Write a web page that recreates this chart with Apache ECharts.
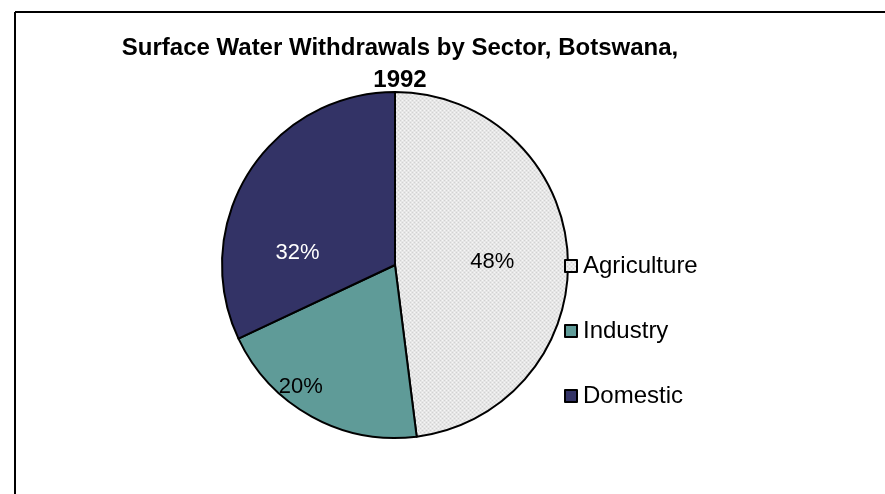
<!DOCTYPE html>
<html><head><meta charset="utf-8">
<script src="https://cdn.jsdelivr.net/npm/echarts@6/dist/echarts.min.js"></script>
<style>html,body{margin:0;padding:0;background:#fff}#c{width:885px;height:494px}</style>
</head><body><div id="c"></div>
<script>
const categories = ['Agriculture', 'Industry', 'Domestic'];
const values = [48, 20, 32];
const titleText = 'Surface Water Withdrawals by Sector, Botswana,\n1992';

function makePattern() {
  const c = document.createElement('canvas');
  c.width = 4; c.height = 4;
  const g = c.getContext('2d');
  g.fillStyle = '#e6e6e6'; g.fillRect(0, 0, 4, 4);
  g.fillStyle = '#d2d2d2';
  g.fillRect(0, 0, 1, 1); g.fillRect(2, 2, 1, 1);
  g.fillStyle = '#f6f6f6';
  g.fillRect(2, 0, 1, 1); g.fillRect(0, 2, 1, 1);
  return { image: c, repeat: 'repeat' };
}
const colors = [makePattern(), '#5f9b98', '#333366'];
const labelColors = ['#000', '#000', '#fff'];
// label nudges (style, not data)
const labelShift = [[8, 3], [-51, 44], [-22, 36]];

const chart = echarts.init(document.getElementById('c'), null, { renderer: 'canvas' });
chart.setOption({
  backgroundColor: '#fff',
  animation: false,
  title: {
    text: titleText,
    left: 395, top: 27, textAlign: 'center',
    textStyle: { fontFamily: 'Liberation Sans, Arial', fontSize: 24, fontWeight: 'bold', color: '#000', lineHeight: 32 }
  },
  legend: {
    orient: 'vertical', left: 559, top: 249, itemGap: 41,
    itemWidth: 12, itemHeight: 12, icon: 'rect',
    textStyle: { fontFamily: 'Liberation Sans, Arial', fontSize: 24, color: '#000', padding: [0, 0, 0, 1] },
    itemStyle: { borderColor: '#000', borderWidth: 2 },
    data: categories
  },
  graphic: [
    { type: 'line', shape: { x1: 15, y1: 12, x2: 885, y2: 12 }, style: { stroke: '#000', lineWidth: 2 } },
    { type: 'line', shape: { x1: 15, y1: 12, x2: 15, y2: 494 }, style: { stroke: '#000', lineWidth: 2 } }
  ],
  series: [{
    type: 'pie',
    center: [395, 265], radius: 173,
    startAngle: 90, clockwise: true,
    label: {
      position: 'inside',
      formatter: p => p.value + '%',
      fontFamily: 'Liberation Sans, Arial', fontSize: 22
    },
    labelLine: { show: false },
    itemStyle: { borderColor: '#000', borderWidth: 2 },
    emphasis: { disabled: true },
    data: categories.map((n, i) => ({
      name: n, value: values[i],
      itemStyle: { color: colors[i] },
      label: { color: labelColors[i], offset: labelShift[i] }
    }))
  }]
});
</script></body></html>
